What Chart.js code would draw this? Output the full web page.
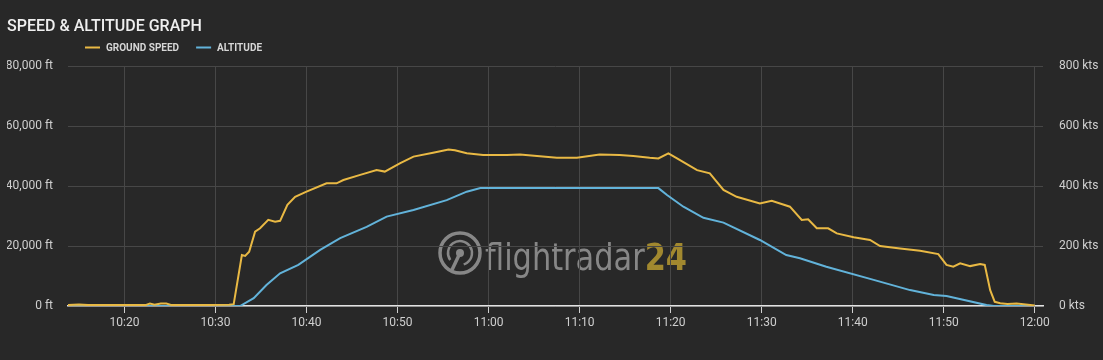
<!DOCTYPE html>
<html>
<head>
<meta charset="utf-8">
<script src="https://cdn.jsdelivr.net/npm/chart.js@4"></script>
<style>
  html, body { margin: 0; padding: 0; background: #282828; }
</style>
</head>
<body>
<canvas id="flightChart" width="1103" height="360"></canvas>
<script>
// minutes after 10:00
const speedMinutes = [13.8, 15, 16, 17.5, 20, 22.3, 22.8, 23.3, 24, 24.6, 25.2, 28, 31.5, 32, 32.9,
  33.26, 33.7, 34.35, 34.9, 35.8, 36.55, 37.1, 37.9, 38.75, 40, 42.2, 43.3, 44.05, 45.9, 47.7,
  48.6, 50.3, 51.75, 53.9, 55.6, 56.3, 57.6, 59.4, 62, 63.45, 67.5, 69.7, 72.2, 74.4, 75.9,
  77.7, 78.65, 79.75, 80.7, 82.9, 84.3, 85.8, 87.25, 89.8, 91.1, 93.1, 94.4, 95.1, 96.05, 97.3,
  98.25, 100.1, 101.9, 103, 105.2, 107.4, 109.4, 110.3, 111.05, 111.8, 112.9, 114, 114.5, 115.1, 115.6,
  116.2, 117, 118, 119, 120]
const speedKts = [3, 5, 3, 3, 3, 3, 8, 4, 8, 8, 3, 3, 4, 6, 170,
  167, 181, 248, 259, 287, 281, 284, 337, 364, 381, 409, 409, 420, 437, 453,
  448, 476, 498, 511, 522, 519, 509, 503, 503, 505, 494, 494, 505, 503, 500,
  494, 492, 509, 492, 453, 442, 387, 364, 342, 351, 331, 287, 289, 259, 259,
  242, 229, 220, 200, 192, 184, 173, 137, 131, 142, 133, 140, 137, 53, 14,
  9, 7, 8, 5, 2]

const altMinutes = [13.8, 32.7, 34.2, 35.6, 37.1, 39.1, 41.5, 43.7, 46.6, 48.8,
  51.75, 55.4, 57.6, 59.1, 78.65, 79.6, 81.4, 83.6, 85.8, 89.8,
  92.7, 94.2, 97.1, 102.3, 106.3, 108.9, 110.3, 114.7, 115.5, 120]
const altFeet = [0, 0, 2600, 7000, 10900, 13700, 18700, 22600, 26400, 29800,
  32000, 35300, 38100, 39300, 39300, 37000, 33100, 29400, 27800, 22000,
  17000, 15900, 13100, 8700, 5300, 3700, 3300, 300, 0, 0]

const timeTicks = [20, 30, 40, 50, 60, 70, 80, 90, 100, 110, 120]
const feetTicks = [0, 20000, 40000, 60000, 80000]
const ktsTicks = [0, 200, 400, 600, 800]

const BG = '#282828'
const YELLOW = '#e9b944'
const BLUE = '#62b3da'
const GRID = '#474747'
const TEXT = '#cfcfcf'

function clockLabel(min) {
  const h = 10 + Math.floor(min / 60)
  const m = Math.round(min % 60)
  return h + ':' + String(m).padStart(2, '0')
}

// background + fr24 watermark under the grid
const backdrop = {
  id: 'backdrop',
  beforeDraw(chart) {
    const ctx = chart.ctx
    ctx.save()
    ctx.fillStyle = BG
    ctx.fillRect(0, 0, chart.width, chart.height)

    const cx = 460, cy = 253
    const grey = '#878787'
    ctx.strokeStyle = grey
    ctx.fillStyle = grey
    ctx.lineWidth = 3.5
    ctx.beginPath(); ctx.arc(cx, cy, 20, 0, Math.PI * 2); ctx.stroke()
    ctx.lineWidth = 2.5
    ctx.beginPath(); ctx.arc(cx, cy, 12, Math.PI * 0.8, Math.PI * 2.4); ctx.stroke()
    ctx.beginPath(); ctx.arc(cx, cy, 4, 0, Math.PI * 2); ctx.fill()
    ctx.lineWidth = 3.5
    ctx.beginPath(); ctx.moveTo(cx, cy); ctx.lineTo(cx - 9, cy + 19); ctx.stroke()

    ctx.font = '38px "DejaVu Sans Condensed", "DejaVu Sans", sans-serif'
    ctx.textBaseline = 'alphabetic'
    const w1 = ctx.measureText('flightradar').width
    ctx.font = 'bold 38px "DejaVu Sans Condensed", "DejaVu Sans", sans-serif'
    const w2 = ctx.measureText('24').width
    const sx = 202 / (w1 + w2)
    ctx.translate(485, 270)
    ctx.scale(sx, 1)
    ctx.font = '38px "DejaVu Sans Condensed", "DejaVu Sans", sans-serif'
    ctx.fillStyle = grey
    ctx.fillText('flightradar', 0, 0)
    ctx.font = 'bold 38px "DejaVu Sans Condensed", "DejaVu Sans", sans-serif'
    ctx.fillStyle = '#a1882f'
    ctx.fillText('24', w1, 0)
    ctx.restore()
  }
}

// legend row under the title
const headerLegend = {
  id: 'headerLegend',
  afterDraw(chart) {
    const ctx = chart.ctx
    ctx.save()
    ctx.font = 'bold 10px Roboto'
    ctx.textBaseline = 'middle'
    let x = 85
    const y = 47.5
    chart.data.datasets.forEach((ds) => {
      ctx.strokeStyle = ds.borderColor
      ctx.lineWidth = 2
      ctx.beginPath(); ctx.moveTo(x, y); ctx.lineTo(x + 15, y); ctx.stroke()
      ctx.fillStyle = '#d6d6d6'
      ctx.fillText(ds.label, x + 21, y + 0.5)
      x += 21 + ctx.measureText(ds.label).width + 17
    })
    ctx.restore()
  }
}

const ctx = document.getElementById('flightChart').getContext('2d')
new Chart(ctx, {
  type: 'line',
  data: {
    datasets: [
      {
        label: 'GROUND SPEED',
        data: speedMinutes.map((t, i) => ({ x: t, y: speedKts[i] })),
        yAxisID: 'yKts',
        borderColor: YELLOW,
        borderWidth: 2,
        pointRadius: 0,
        tension: 0,
      },
      {
        label: 'ALTITUDE',
        data: altMinutes.map((t, i) => ({ x: t, y: altFeet[i] })),
        yAxisID: 'yFt',
        borderColor: BLUE,
        borderWidth: 2,
        pointRadius: 0,
        tension: 0,
      },
    ],
  },
  options: {
    responsive: false,
    animation: false,
    layout: { padding: { left: 7, right: 0, top: 0, bottom: 0 } },
    scales: {
      x: {
        type: 'linear',
        min: 13.8,
        max: 120.9,
        afterBuildTicks: (s) => { s.ticks = timeTicks.map((v) => ({ value: v })) },
        afterFit: (s) => { s.height = 54 },
        ticks: {
          autoSkip: false,
          maxRotation: 0,
          padding: 3,
          color: TEXT,
          font: { family: 'Roboto', size: 12 },
          callback: (v) => clockLabel(v),
        },
        grid: { color: GRID, tickLength: 7, tickColor: '#d0d0d0' },
        border: { color: '#e2e2e2', width: 1.5 },
      },
      yFt: {
        position: 'left',
        min: 0,
        max: 80000,
        afterBuildTicks: (s) => { s.ticks = feetTicks.map((v) => ({ value: v })) },
        afterFit: (s) => { s.width = 61 },
        ticks: {
          padding: 15,
          color: TEXT,
          font: { family: 'Roboto', size: 12 },
          callback: (v) => v.toLocaleString('en-US') + ' ft',
        },
        grid: { color: GRID, drawTicks: false },
        border: { display: false },
      },
      yKts: {
        position: 'right',
        min: 0,
        max: 800,
        afterBuildTicks: (s) => { s.ticks = ktsTicks.map((v) => ({ value: v })) },
        afterFit: (s) => { s.width = 60 },
        ticks: {
          padding: 16,
          color: TEXT,
          font: { family: 'Roboto', size: 12 },
          callback: (v) => v + ' kts',
        },
        grid: { display: false, drawTicks: false },
        border: { display: false },
      },
    },
    plugins: {
      legend: { display: false },
      tooltip: { enabled: false },
      title: {
        display: true,
        text: 'SPEED & ALTITUDE GRAPH',
        align: 'start',
        color: '#efefef',
        font: { family: 'Roboto', size: 16, weight: '500' },
        padding: { top: 17, bottom: 29.8 },
      },
    },
  },
  plugins: [backdrop, headerLegend],
})
</script>
</body>
</html>
